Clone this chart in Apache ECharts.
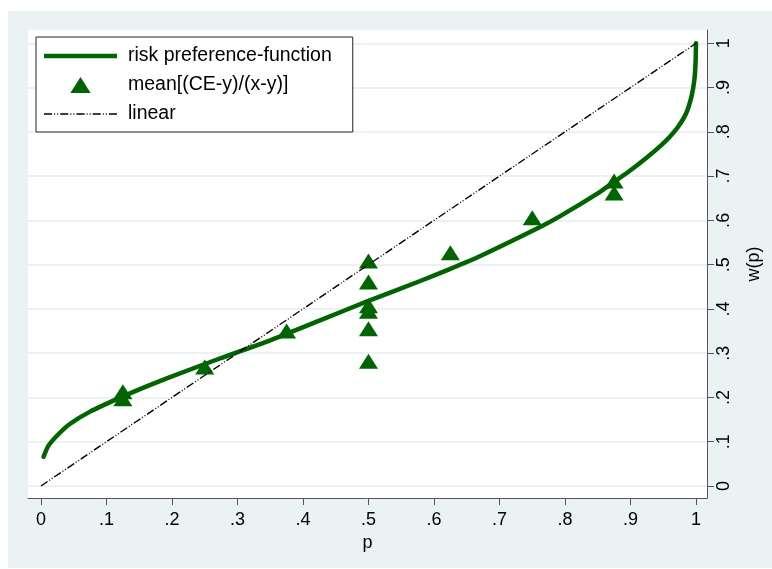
<!DOCTYPE html>
<html>
<head>
<meta charset="utf-8">
<script src="https://cdn.jsdelivr.net/npm/echarts@6/dist/echarts.min.js"></script>
<style>
html,body{margin:0;padding:0;background:#fff;}
#c{width:772px;height:569px;}
</style>
</head>
<body>
<div id="c"></div>
<script>
// ---- data ----
const curveP = [0.004, 0.011, 0.024, 0.044, 0.075, 0.126, 0.166, 0.197, 0.273, 0.35, 0.426, 0.497, 0.579, 0.624, 0.670, 0.762, 0.792, 0.853, 0.874, 0.899, 0.925, 0.945, 0.960, 0.973, 0.985, 0.993, 0.9975, 0.9993, 1.0];
const curveW = [0.066, 0.090, 0.113, 0.140, 0.168, 0.203, 0.228, 0.246, 0.288, 0.329, 0.374, 0.4165, 0.463, 0.490, 0.519, 0.585, 0.609, 0.664, 0.686, 0.712, 0.742, 0.767, 0.789, 0.812, 0.842, 0.879, 0.917, 0.955, 1.0];
const obsP = [0.125, 0.125, 0.25, 0.375, 0.5, 0.5, 0.5, 0.5, 0.5, 0.5, 0.625, 0.75, 0.875, 0.875];
const obsW = [0.213, 0.197, 0.269, 0.350, 0.508, 0.461, 0.407, 0.395, 0.355, 0.282, 0.527, 0.606, 0.689, 0.662];
const linearP = [0, 1];
const linearW = [0, 1];
const tickValues = [0, 0.1, 0.2, 0.3, 0.4, 0.5, 0.6, 0.7, 0.8, 0.9, 1];
const tickLabels = ['0', '.1', '.2', '.3', '.4', '.5', '.6', '.7', '.8', '.9', '1'];
const seriesNames = ['risk preference-function', 'mean[(CE-y)/(x-y)]', 'linear'];

const GREEN = '#006400';
const FONT = 'Liberation Sans';
const DASH = [8, 2, 1, 2, 1, 2];
function fmt(v) {
  const i = tickValues.findIndex(t => Math.abs(t - v) < 1e-6);
  return i >= 0 ? tickLabels[i] : '';
}
const zip = (a, b) => a.map((v, i) => [v, b[i]]);

// legend icon paths (style only)
const ICON_W = 73;
const solidIcon = 'path://M0,0 H' + ICON_W + ' V4.5 H0 Z';
function dashIcon() {
  let d = '', x = 0, k = 0;
  while (x < ICON_W) {
    const len = Math.min(DASH[k % DASH.length], ICON_W - x);
    if (k % 2 === 0) d += 'M' + x + ',0 H' + (x + len) + ' V1.4 H' + x + ' Z ';
    x += DASH[k % DASH.length];
    k++;
  }
  return 'path://' + d;
}

const chart = echarts.init(document.getElementById('c'), null, {renderer: 'canvas'});
chart.setOption({
  animation: false,
  backgroundColor: 'transparent',
  graphic: [{
    type: 'rect', left: 8, top: 11, silent: true, z: -100,
    shape: {width: 764, height: 557},
    style: {fill: '#eaf2f3'}
  }],
  grid: {
    left: 28, right: 65, top: 30, bottom: 71,
    show: true, backgroundColor: '#ffffff', borderWidth: 0
  },
  legend: {
    orient: 'vertical', left: 36, top: 37,
    padding: [9, 21, 8, 8], itemGap: 9,
    itemWidth: ICON_W, itemHeight: 16,
    symbolKeepAspect: true,
    backgroundColor: '#ffffff', borderColor: '#222', borderWidth: 1, borderRadius: 0,
    textStyle: {fontSize: 19.5, color: '#000', fontFamily: FONT, padding: [0, 0, 0, 6]},
    data: [
      {name: seriesNames[0], icon: solidIcon},
      {name: seriesNames[1], icon: 'path://M0,15 L9.5,0 L19,15 Z'},
      {name: seriesNames[2], icon: dashIcon()}
    ]
  },
  xAxis: {
    type: 'value', min: -0.0198, max: 1.0168,
    name: 'p', nameLocation: 'middle', nameGap: 36,
    nameTextStyle: {fontSize: 18, color: '#000', fontFamily: FONT},
    axisLine: {show: true, onZero: false, lineStyle: {color: '#555', width: 1}},
    axisTick: {show: true, length: 7, customValues: tickValues, lineStyle: {color: '#555'}},
    axisLabel: {customValues: tickValues, formatter: fmt, fontSize: 18, color: '#000', fontFamily: FONT, margin: 13},
    splitLine: {show: false}
  },
  yAxis: {
    type: 'value', position: 'right', min: -0.0271, max: 1.030,
    name: 'w(p)', nameLocation: 'middle', nameGap: 38, nameRotate: 90,
    nameTextStyle: {fontSize: 18, color: '#000', fontFamily: FONT},
    axisLine: {show: true, onZero: false, lineStyle: {color: '#555', width: 1}},
    axisTick: {show: true, length: 7, customValues: tickValues, lineStyle: {color: '#555'}},
    axisLabel: {customValues: tickValues, formatter: fmt, rotate: 90, fontSize: 18, color: '#000', fontFamily: FONT, margin: 8},
    splitLine: {show: true, lineStyle: {color: '#e6eef0', width: 1.5}}
  },
  series: [
    {
      name: seriesNames[0], type: 'line', data: zip(curveP, curveW),
      symbol: 'none', smooth: 0.2, z: 2,
      lineStyle: {color: GREEN, width: 4.5, cap: 'round'},
      itemStyle: {color: GREEN}
    },
    {
      name: seriesNames[1], type: 'scatter', data: zip(obsP, obsW),
      symbol: 'triangle', symbolSize: [19, 15], z: 3,
      itemStyle: {color: GREEN, opacity: 1}
    },
    {
      name: seriesNames[2], type: 'line', data: zip(linearP, linearW),
      symbol: 'none', z: 4,
      lineStyle: {color: '#000', width: 1.4, type: DASH},
      itemStyle: {color: '#000'}
    }
  ]
});
</script>
</body>
</html>
